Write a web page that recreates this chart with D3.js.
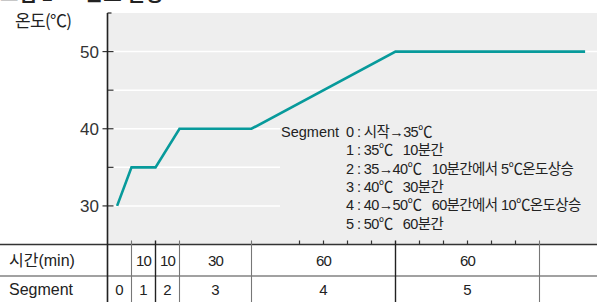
<!DOCTYPE html>
<html>
<head>
<meta charset="utf-8">
<script src="https://cdn.jsdelivr.net/npm/d3@7"></script>
<style>
  body { margin: 0; background: #fff; }
  svg text { font-family: "Liberation Sans Narrow", "Liberation Sans", "Noto Sans CJK KR", sans-serif; fill: #222; white-space: pre; }
</style>
</head>
<body>
<div id="chart"></div>
<script>
// temperature program
var profileTime = [4, 10, 20, 30, 60, 120, 199];
var profileTemp = [30, 35, 35, 40, 40, 50, 50];

// table under the chart
var segments = ["0", "1", "2", "3", "4", "5"];
var segStart = [0, 10, 20, 30, 60, 120];
var segEnd = [10, 20, 30, 60, 120, 180];
var segMinutes = ["", "10", "10", "30", "60", "60"];

var yMajor = [30, 40, 50];
var yMinor = [35, 45];
var xMinor = [80, 90, 100, 110, 130, 140, 150, 160, 170];

var legendLines = [
  "0 : 시작→35℃",
  "1 : 35℃   10분간",
  "2 : 35→40℃   10분간에서 5℃온도상승",
  "3 : 40℃   30분간",
  "4 : 40→50℃   60분간에서 10℃온도상승",
  "5 : 50℃   60분간"
];

var W = 597, H = 302;
var plotLeft = 107.5, plotTop = 13, plotBottom = 244.5;

var x = d3.scaleLinear().domain([0, 180]).range([plotLeft, 539.5]);
var y = d3.scaleLinear().domain([25, 55]).range([plotBottom, plotTop]);

var svg = d3.select("#chart").append("svg")
  .attr("width", W).attr("height", H);

// title, cut off at the very top
svg.append("text")
  .attr("x", 0).attr("y", 1)
  .style("font-family", "Noto Sans CJK KR").style("font-weight", "bold")
  .style("font-size", "20px")
  .text("그림 1       온도 설정");

// plot background
svg.append("rect")
  .attr("x", plotLeft).attr("y", plotTop)
  .attr("width", W - plotLeft).attr("height", plotBottom - plotTop)
  .attr("fill", "#eeeeee");

// grid
svg.append("g").selectAll("line")
  .data(yMajor.concat(yMinor))
  .enter().append("line")
  .attr("x1", plotLeft + 1).attr("x2", W)
  .attr("y1", d => y(d)).attr("y2", d => y(d))
  .attr("stroke", "#fff").attr("stroke-width", 1.5);

// legend background hides the lower grid lines
svg.append("rect")
  .attr("x", 280).attr("y", 118)
  .attr("width", W - 280).attr("height", 118)
  .attr("fill", "#eeeeee");

// y axis
svg.append("line")
  .attr("x1", plotLeft).attr("x2", plotLeft)
  .attr("y1", plotTop).attr("y2", H)
  .attr("stroke", "#333").attr("stroke-width", 1.3);
svg.append("line")
  .attr("x1", plotLeft).attr("x2", plotLeft + 4)
  .attr("y1", plotTop).attr("y2", plotTop)
  .attr("stroke", "#333").attr("stroke-width", 1.3);

var yAxis = svg.append("g");
yAxis.selectAll("line.major")
  .data(yMajor).enter().append("line")
  .attr("x1", plotLeft - 5).attr("x2", plotLeft + 6)
  .attr("y1", d => y(d)).attr("y2", d => y(d))
  .attr("stroke", "#333").attr("stroke-width", 1.2);
yAxis.selectAll("line.minor")
  .data(yMinor).enter().append("line")
  .attr("x1", plotLeft).attr("x2", plotLeft + 6)
  .attr("y1", d => y(d)).attr("y2", d => y(d))
  .attr("stroke", "#333").attr("stroke-width", 1.2);
yAxis.selectAll("text")
  .data(yMajor).enter().append("text")
  .attr("x", 99).attr("y", d => y(d))
  .attr("dy", "0.35em")
  .attr("text-anchor", "end")
  .style("font-family", "Liberation Sans").style("font-size", "17px")
  .style("fill", "#333")
  .text(d => d);

svg.append("text")
  .attr("x", 15).attr("y", 27)
  .style("font-family", "Noto Sans CJK KR").style("font-size", "17px")
  .style("letter-spacing", "-0.7px")
  .text("온도(℃)");

// x axis / table lines
svg.append("line")
  .attr("x1", 0).attr("x2", W)
  .attr("y1", plotBottom).attr("y2", plotBottom)
  .attr("stroke", "#333").attr("stroke-width", 1.3);
svg.append("line")
  .attr("x1", 0).attr("x2", W)
  .attr("y1", 276).attr("y2", 276)
  .attr("stroke", "#444").attr("stroke-width", 1.2);

svg.append("g").selectAll("line")
  .data(xMinor).enter().append("line")
  .attr("x1", d => x(d)).attr("x2", d => x(d))
  .attr("y1", plotBottom - 4).attr("y2", plotBottom)
  .attr("stroke", "#333").attr("stroke-width", 1.2);

var bounds = segStart.concat([segEnd[segEnd.length - 1]]);
var darkBounds = [0, 20, 120];
svg.append("g").selectAll("line")
  .data(bounds).enter().append("line")
  .attr("x1", d => x(d)).attr("x2", d => x(d))
  .attr("y1", d => d === 0 ? plotTop : plotBottom - 4).attr("y2", H)
  .attr("stroke", d => darkBounds.indexOf(d) >= 0 ? "#222" : "#777")
  .attr("stroke-width", d => darkBounds.indexOf(d) >= 0 ? 1.4 : 1.1);

// temperature line
var pts = profileTime.map((t, i) => [t, profileTemp[i]]);
svg.append("path")
  .datum(pts)
  .attr("fill", "none")
  .attr("stroke", "#079a9b")
  .attr("stroke-width", 2.6)
  .attr("d", d3.line().x(d => x(d[0])).y(d => y(d[1])));

// legend
svg.append("text")
  .attr("x", 281).attr("y", 137)
  .style("font-size", "14.5px")
  .text("Segment");
svg.append("g").selectAll("text")
  .data(legendLines).enter().append("text")
  .attr("x", 346).attr("y", (d, i) => 137 + i * 18.3)
  .style("font-size", "14.5px")
  .style("letter-spacing", "-0.6px")
  .text(d => d);

// table rows
svg.append("text")
  .attr("x", 9).attr("y", 266)
  .style("font-size", "16px")
  .text("시간(min)");
svg.append("text")
  .attr("x", 9).attr("y", 295)
  .style("font-size", "16px")
  .text("Segment");

var mids = segStart.map((s, i) => (x(s) + x(segEnd[i])) / 2);
svg.append("g").selectAll("text")
  .data(segMinutes).enter().append("text")
  .attr("x", (d, i) => mids[i]).attr("y", 266)
  .attr("text-anchor", "middle")
  .style("font-family", "Liberation Sans").style("font-size", "15px")
  .style("letter-spacing", "-0.8px")
  .text(d => d);
svg.append("g").selectAll("text")
  .data(segments).enter().append("text")
  .attr("x", (d, i) => mids[i]).attr("y", 295)
  .attr("text-anchor", "middle")
  .style("font-family", "Liberation Sans").style("font-size", "15px")
  .text(d => d);
</script>
</body>
</html>
